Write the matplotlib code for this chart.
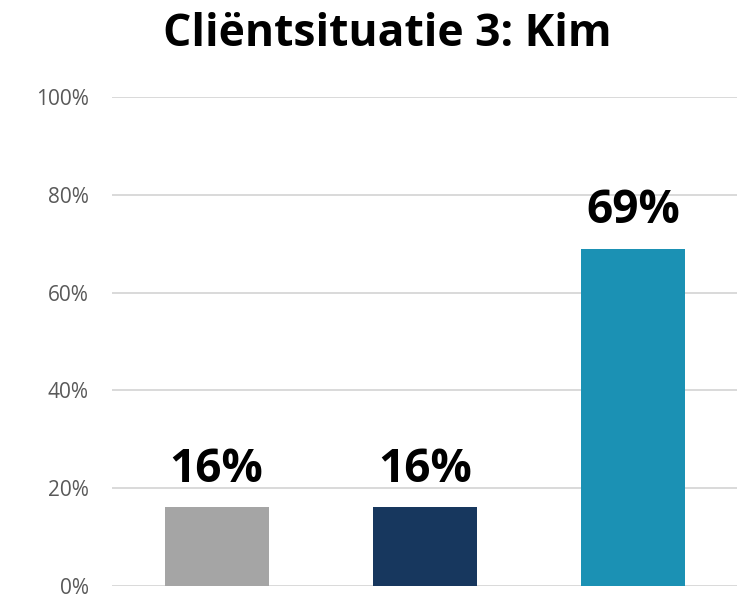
import matplotlib.pyplot as plt
import numpy as np

# Data
options = ['Optie 1', 'Optie 2', 'Optie 3']
percentages = [16, 16, 69]
colors = ['#A5A5A5', '#17375E', '#1B91B4']
y_ticks = [0, 20, 40, 60, 80, 100]

plt.rcParams['font.family'] = ['Open Sans', 'DejaVu Sans']

fig = plt.figure(figsize=(7.4, 6), dpi=100)
ax = fig.add_axes([0.152, 0.024, 0.844, 0.814])

x = np.arange(len(options))
bars = ax.bar(x, percentages, width=0.5, color=colors, zorder=3)

# Data labels above the bars
for xi, val in zip(x, percentages):
    ax.annotate(f'{val}%', (xi, val), xytext=(0, 18.5), textcoords='offset points',
                ha='center', va='baseline', fontsize=33, fontweight='bold', color='black')

ax.set_ylim(0, 100)
ax.set_xlim(-0.5, len(options) - 0.5)
ax.set_yticks(y_ticks)
ax.set_yticklabels([f'{t}%' for t in y_ticks], fontsize=15, color='#595959')
ax.set_xticks([])
ax.tick_params(axis='y', length=0, pad=17)
ax.grid(axis='y', color='#D9D9D9', linewidth=1.4, zorder=0)
for s in ax.spines.values():
    s.set_visible(False)

fig.text(0.524, 0.942, 'Cliëntsituatie 3: Kim', ha='center', va='center',
         fontsize=32, fontweight='bold', color='black')

fig.savefig('out.png', dpi=100)
